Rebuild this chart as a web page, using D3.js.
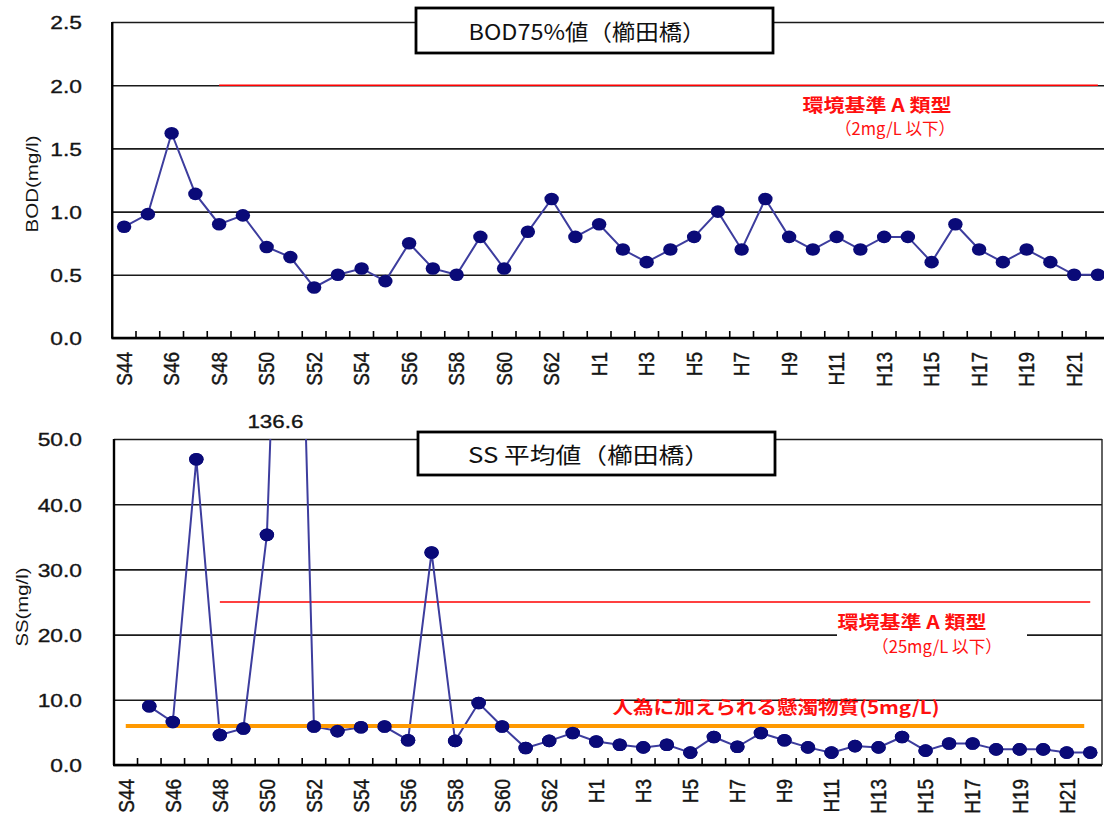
<!DOCTYPE html>
<html><head><meta charset="utf-8">
<script src="https://cdn.jsdelivr.net/npm/d3@7"></script>
<style>body{margin:0;background:#fff}svg{display:block}</style>
</head><body><svg id="c" width="1104" height="816"></svg>
<script>
// ---------------- data ----------------
const categories = ["S44","S45","S46","S47","S48","S49","S50","S51","S52","S53","S54","S55","S56","S57","S58","S59","S60","S61","S62","S63",
  "H1","H2","H3","H4","H5","H6","H7","H8","H9","H10","H11","H12","H13","H14","H15","H16","H17","H18","H19","H20","H21","H22"];
const xTickLabels = ["S44","S46","S48","S50","S52","S54","S56","S58","S60","S62","H1","H3","H5","H7","H9","H11","H13","H15","H17","H19","H21"];
const bodValues = [0.88,0.98,1.62,1.14,0.90,0.97,0.72,0.64,0.40,0.50,0.55,0.45,0.75,0.55,0.50,0.80,0.55,0.84,1.10,0.80,
  0.90,0.70,0.60,0.70,0.80,1.00,0.70,1.10,0.80,0.70,0.80,0.70,0.80,0.80,0.60,0.90,0.70,0.60,0.70,0.60,0.50,0.50];
const ssValues = [null,9.0,6.6,46.9,4.6,5.6,35.3,136.6,5.9,5.2,5.8,5.9,3.8,32.6,3.7,9.5,5.9,2.6,3.7,4.9,
  3.6,3.1,2.7,3.1,1.9,4.3,2.8,4.9,3.8,2.7,1.9,2.9,2.7,4.3,2.2,3.3,3.3,2.4,2.4,2.4,1.9,1.9];
const bodTicks = [0,0.5,1.0,1.5,2.0,2.5];
const ssTicks = [0,10,20,30,40,50];
const bodStandard = 2.0;      // 環境基準A類型 (2mg/L以下)
const ssStandard = 25;        // 環境基準A類型 (25mg/L以下)
const ssAnthropogenic = 6;    // 人為に加えられる懸濁物質 line as drawn
const standardStart = "S48";
const bodTitle = "BOD75%値（櫛田橋）";
const ssTitle = "SS 平均値（櫛田橋）";

// ---------------- drawing ----------------
const svg = d3.select("#c");
const NUM_FONT = "'Liberation Sans', Arial, sans-serif";
const JP_FONT = "'Noto Sans CJK JP', 'Noto Sans', sans-serif";
const LINE_COL = "#3d3d9e", DOT_COL = "#0a0a78", TXT = "#151515";

function panel(cfg) {
  const g = svg.append("g");
  const x = d3.scaleBand().domain(categories).range([cfg.left, cfg.right]);
  const y = d3.scaleLinear().domain(cfg.domain).range([cfg.bottom, cfg.top]);
  const cx = c => x(c) + x.bandwidth() / 2;

  const clipId = "clip" + cfg.id;
  svg.append("clipPath").attr("id", clipId).append("rect")
    .attr("x", cfg.left).attr("y", cfg.top).attr("width", Math.min(cfg.right, 1104) - cfg.left).attr("height", cfg.bottom - cfg.top);

  const yAxis = d3.axisLeft(y).tickValues(cfg.ticks).tickFormat(d3.format(".1f"))
    .tickSize(-(cfg.right - cfg.left)).tickPadding(0);
  const ya = g.append("g").attr("transform", `translate(${cfg.left},0)`).call(yAxis);
  ya.select(".domain").remove();
  ya.selectAll(".tick line").attr("stroke", "#1a1a1a").attr("stroke-width", 1.6);
  ya.selectAll(".tick text")
    .attr("font-family", NUM_FONT).attr("font-size", 19).attr("fill", TXT)
    .attr("stroke", TXT).attr("stroke-width", 0.35)
    .attr("text-anchor", "end").attr("x", -(cfg.left - 82) / 1.2).attr("dy", "0.36em")
    .attr("transform", "scale(1.2,1)");

  cfg.extraLines.forEach(l => {
    g.append("line").attr("x1", cx(l.from)).attr("x2", cx(categories[categories.length - 1]))
      .attr("y1", y(l.value)).attr("y2", y(l.value))
      .attr("stroke", l.color).attr("stroke-width", l.width);
  });

  g.append("line").attr("x1", cfg.left).attr("x2", cfg.left).attr("y1", cfg.top).attr("y2", cfg.bottom)
    .attr("stroke", "#000").attr("stroke-width", 2.4);
  g.append("line").attr("x1", cfg.left - 1).attr("x2", cfg.right).attr("y1", cfg.bottom).attr("y2", cfg.bottom)
    .attr("stroke", "#000").attr("stroke-width", 2.4);
  if (cfg.rightBorder) {
    g.append("line").attr("x1", cfg.right).attr("x2", cfg.right).attr("y1", cfg.top).attr("y2", cfg.bottom)
      .attr("stroke", "#222").attr("stroke-width", 1.4);
  }
  g.selectAll(".xt").data(categories.slice(1)).join("line")
    .attr("x1", d => x(d)).attr("x2", d => x(d))
    .attr("y1", cfg.bottom - 7).attr("y2", cfg.bottom)
    .attr("stroke", "#000").attr("stroke-width", 1.6);

  const xAxis = d3.axisBottom(x).tickValues(xTickLabels).tickSize(0);
  const xa = g.append("g").attr("transform", `translate(0,${cfg.bottom})`).call(xAxis);
  xa.select(".domain").remove();
  xa.selectAll(".tick text")
    .attr("font-family", NUM_FONT).attr("font-size", 19).attr("fill", TXT)
    .attr("stroke", TXT).attr("stroke-width", 0.35)
    .attr("text-anchor", "end").attr("x", -14).attr("y", 0).attr("dy", "0.36em")
    .attr("transform", "scale(1.15,1) rotate(-90)");

  const pts = categories.map((c, i) => ({ c, v: cfg.values[i] }));
  const line = d3.line().defined(d => d.v != null).x(d => cx(d.c)).y(d => y(d.v));
  const dg = g.append("g").attr("clip-path", `url(#${clipId})`);
  dg.append("path").datum(pts).attr("d", line).attr("fill", "none")
    .attr("stroke", LINE_COL).attr("stroke-width", 2);
  dg.selectAll("ellipse").data(pts.filter(d => d.v != null)).join("ellipse")
    .attr("cx", d => cx(d.c)).attr("cy", d => y(d.v)).attr("rx", 7.2).attr("ry", 6.3)
    .attr("fill", DOT_COL);

  g.append("text").attr("transform", `translate(${cfg.ytX},${cfg.ytY}) rotate(-90)`)
    .attr("text-anchor", "middle").attr("dy", "0.35em")
    .attr("font-family", NUM_FONT).attr("font-size", 17).attr("fill", TXT)
    .attr("textLength", cfg.ytLen).attr("lengthAdjust", "spacingAndGlyphs")
    .text(cfg.yTitle);

  g.append("rect").attr("x", cfg.box[0]).attr("y", cfg.box[1]).attr("width", cfg.box[2]).attr("height", cfg.box[3])
    .attr("fill", "#fff").attr("stroke", "#000").attr("stroke-width", 2.8);
  g.append("text").attr("x", cfg.titleX).attr("y", cfg.titleY).attr("text-anchor", "middle")
    .attr("font-family", JP_FONT).attr("font-size", 22).attr("fill", "#111")
    .attr("textLength", cfg.titleLen).attr("lengthAdjust", "spacingAndGlyphs")
    .text(cfg.title);
  return { g, x, y, cx };
}

function redText(g, x, y, str, len, bold, size) {
  g.append("text").attr("x", x).attr("y", y).attr("text-anchor", "middle")
    .attr("font-family", JP_FONT).attr("font-size", size || 17).attr("font-weight", bold ? 700 : 400)
    .attr("fill", "#ff1010").attr("textLength", len).attr("lengthAdjust", "spacingAndGlyphs")
    .text(str);
}

const topPanel = panel({
  id: "a", left: 112.25, right: 1109.75, top: 22, bottom: 338, domain: [0, 2.5], ticks: bodTicks,
  values: bodValues, rightBorder: false,
  extraLines: [{ value: bodStandard, from: standardStart, color: "#ff0000", width: 1.6 }],
  yTitle: "BOD(mg/l)", ytX: 32, ytY: 184, ytLen: 97,
  box: [416, 8, 357, 45], title: bodTitle, titleX: 587, titleY: 40, titleLen: 237
});
redText(topPanel.g, 877, 112, "環境基準 A 類型", 149, true, 18);
redText(topPanel.g, 895, 135, "（2mg/L 以下）", 120, false, 17);

const botPanel = panel({
  id: "b", left: 114, right: 1102, top: 439, bottom: 765, domain: [0, 50], ticks: ssTicks,
  values: ssValues, rightBorder: true,
  extraLines: [{ value: ssStandard, from: standardStart, color: "#ff0000", width: 1.6 }],
  yTitle: "SS(mg/l)", ytX: 22, ytY: 607, ytLen: 79,
  box: [418, 432, 357, 43], title: ssTitle, titleX: 589, titleY: 463, titleLen: 242
});
botPanel.g.append("rect").attr("x", 837).attr("y", 611).attr("width", 190).attr("height", 46).attr("fill", "#fff");
redText(botPanel.g, 912, 629, "環境基準 A 類型", 149, true, 18);
redText(botPanel.g, 937, 653, "（25mg/L 以下）", 130, false, 17);
botPanel.g.append("line").attr("x1", botPanel.cx("S44")).attr("x2", botPanel.cx("H22") - 6)
  .attr("y1", botPanel.y(ssAnthropogenic)).attr("y2", botPanel.y(ssAnthropogenic))
  .attr("stroke", "#ff9900").attr("stroke-width", 4);
redText(botPanel.g, 776, 714, "人為に加えられる懸濁物質(5mg/L)", 327, true, 18);
botPanel.g.append("g").selectAll("ellipse").data(categories.map((c, i) => ({ c, v: ssValues[i] })).filter(d => d.v != null && d.v <= 50))
  .join("ellipse").attr("cx", d => botPanel.cx(d.c)).attr("cy", d => botPanel.y(d.v)).attr("rx", 7.2).attr("ry", 6.3).attr("fill", DOT_COL);
botPanel.g.append("text").attr("x", botPanel.cx("S51") - 15).attr("y", 428).attr("text-anchor", "middle")
  .attr("font-family", NUM_FONT).attr("font-size", 19).attr("fill", TXT)
  .attr("stroke", TXT).attr("stroke-width", 0.35)
  .attr("textLength", 56).attr("lengthAdjust", "spacingAndGlyphs")
  .text(ssValues[categories.indexOf("S51")].toFixed(1));
</script></body></html>
